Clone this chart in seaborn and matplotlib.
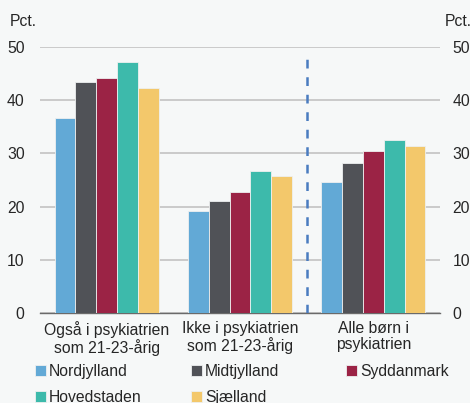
import pandas as pd
import matplotlib.pyplot as plt
import seaborn as sns

# Data
groups = ["Også i psykiatrien\nsom 21-23-årig",
          "Ikke i psykiatrien\nsom 21-23-årig",
          "Alle børn i\npsykiatrien"]
regions = ["Nordjylland", "Midtjylland", "Syddanmark", "Hovedstaden", "Sjælland"]
nordjylland = [36.6, 19.1, 24.6]
midtjylland = [43.5, 21.1, 28.2]
syddanmark = [44.1, 22.8, 30.4]
hovedstaden = [47.2, 26.6, 32.6]
sjaelland = [42.2, 25.7, 31.3]
colors = ["#62a9d6", "#505257", "#9b2345", "#3dbaab", "#f3c86b"]

df = pd.DataFrame({"gruppe": groups * 5,
                   "region": [r for r in regions for _ in groups],
                   "pct": nordjylland + midtjylland + syddanmark + hovedstaden + sjaelland})

sns.set_style("white")
plt.rcParams["font.family"] = ["Liberation Sans", "DejaVu Sans"]
fs = 11.3
plt.rcParams["font.size"] = fs

bg = "#f6f8f8"
fig = plt.figure(figsize=(4.7, 4.03), dpi=100, facecolor=bg)
ax = fig.add_axes([40 / 470, 1 - 313 / 403, 400 / 470, (313 - 47) / 403], facecolor=bg)

sns.barplot(data=df, x="gruppe", y="pct", hue="region", palette=colors,
            saturation=1, width=0.78, linewidth=0.6, edgecolor="#eef0f0",
            ax=ax, zorder=3)

ax.set_ylim(0, 50)
ax.set_xlim(-0.5, 2.5)
ax.set_yticks(range(0, 51, 10))
ax.grid(axis="y", color="#c3c3c3", linewidth=1.2, zorder=0)
ax.set_axisbelow(True)
for s in ["top", "left", "right"]:
    ax.spines[s].set_visible(False)
ax.spines["bottom"].set_color("#6a6a6a")
ax.spines["bottom"].set_linewidth(1.0)

ax.set_xlabel("")
ax.set_ylabel("")
ax.set_xticks([0, 1, 2])
ax.set_xticklabels(groups, fontsize=fs, linespacing=1.05)
ax.tick_params(axis="x", length=0, pad=6)
ax.tick_params(axis="y", length=0, pad=11, labelsize=fs)
# small ticks at the group borders
ax.set_xticks([-0.5, 0.5, 1.5, 2.5], minor=True)
ax.tick_params(axis="x", which="minor", length=5, color="#6a6a6a", direction="out")

ax2 = ax.twinx()
ax2.set_ylim(ax.get_ylim())
ax2.set_yticks(range(0, 51, 10))
ax2.tick_params(axis="y", length=0, pad=9, labelsize=fs)
for s in ax2.spines.values():
    s.set_visible(False)

ax.vlines(1.5, 0, 48.7, colors="#4a7cc0", linestyles=(0, (3.5, 3.5)), linewidth=1.8, zorder=4)

fig.text(10 / 470, 1 - 21 / 403, "Pct.", fontsize=fs, va="center", ha="left")
fig.text(445 / 470, 1 - 21 / 403, "Pct.", fontsize=fs, va="center", ha="left")

handles, labels = ax.get_legend_handles_labels()
ax.get_legend().remove()
# legend laid out row by row in three fixed columns
col_x = [35, 191, 346]
for c, x in enumerate(col_x):
    idx = [i for i in range(len(labels)) if i % 3 == c]
    fig.legend([handles[i] for i in idx], [labels[i] for i in idx],
               loc="upper left", bbox_to_anchor=(x / 470, 1 - 364 / 403),
               frameon=False, handlelength=0.7, handleheight=0.7,
               handletextpad=0.2, labelspacing=0.7, fontsize=fs,
               borderaxespad=0, borderpad=0)

plt.savefig("out.png", dpi=100, facecolor=bg)
